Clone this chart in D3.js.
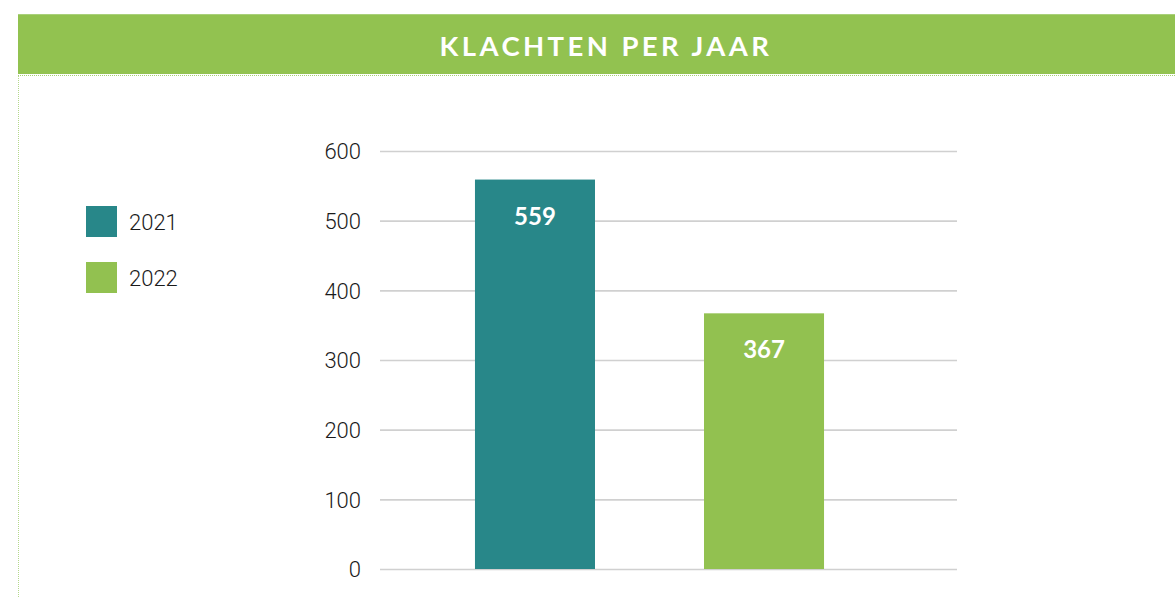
<!DOCTYPE html>
<html><head><meta charset="utf-8">
<script src="https://cdn.jsdelivr.net/npm/d3@7"></script>
<style>body{margin:0;background:#fff;} svg{display:block;}</style>
</head><body>
<svg id="c" width="1175" height="598"></svg>
<script>
const title = "KLACHTEN PER JAAR";
const categories = ["2021", "2022"];
const values = [559, 367];
const colors = ["#288789", "#92C150"];
const yTicks = [0, 100, 200, 300, 400, 500, 600];

const svg = d3.select("#c");
// header band
svg.append("rect").attr("x", 18).attr("y", 14).attr("width", 1157).attr("height", 60).attr("fill", "#92C250");
svg.append("line").attr("x1", 18).attr("x2", 1175).attr("y1", 14.5).attr("y2", 14.5).attr("stroke", "#a9d07a").attr("stroke-width", 1);
svg.append("line").attr("x1", 18).attr("x2", 1175).attr("y1", 75.5).attr("y2", 75.5)
  .attr("stroke", "#a6cf72").attr("stroke-width", 1).attr("stroke-dasharray", "1,1");
svg.append("line").attr("x1", 18.5).attr("x2", 18.5).attr("y1", 76).attr("y2", 598)
  .attr("stroke", "#b5d88c").attr("stroke-width", 1).attr("stroke-dasharray", "1,1");
svg.append("text").attr("x", 606).attr("y", 56).attr("text-anchor", "middle")
  .attr("fill", "#fff").attr("font-family", "Lato").attr("font-weight", 700)
  .attr("font-size", 27.5).attr("letter-spacing", 3.4).text(title);

const y = d3.scaleLinear().domain([0, 600]).range([569, 151]);
const x = d3.scaleBand().domain(categories).range([420, 879]).paddingInner(0.476).paddingOuter(0.24);

const g = svg.append("g");
const axis = d3.axisLeft(y).tickValues(yTicks).tickSize(-577).tickPadding(19);
const ag = g.append("g").attr("transform", "translate(380,0)").call(axis);
ag.select(".domain").remove();
ag.selectAll(".tick line").attr("stroke", "#d0d0d0").attr("stroke-width", 1.6);
ag.selectAll(".tick text").attr("fill", "#1a1a1a").attr("font-family", "Roboto").attr("font-weight", 300)
  .attr("font-size", 22).attr("dy", "0.36em");

g.selectAll("rect.bar").data(categories).enter().append("rect").attr("class", "bar")
  .attr("x", d => x(d)).attr("width", x.bandwidth())
  .attr("y", (d, i) => y(values[i])).attr("height", (d, i) => y(0) - y(values[i]))
  .attr("fill", (d, i) => colors[i]);

g.selectAll("text.val").data(categories).enter().append("text").attr("class", "val")
  .attr("x", d => x(d) + x.bandwidth() / 2).attr("y", (d, i) => y(values[i]) + 45)
  .attr("text-anchor", "middle").attr("fill", "#fff").attr("font-family", "Lato").attr("font-weight", 700)
  .attr("font-size", 24).text((d, i) => values[i]);

// legend
const lg = svg.append("g");
categories.forEach((c, i) => {
  lg.append("rect").attr("x", 86).attr("y", 206 + i * 56).attr("width", 31).attr("height", 31).attr("fill", colors[i]);
  lg.append("text").attr("x", 129).attr("y", 230 + i * 56).attr("fill", "#1a1a1a")
    .attr("font-family", "Roboto").attr("font-weight", 300).attr("font-size", 22).text(c);
});
</script>
</body></html>
